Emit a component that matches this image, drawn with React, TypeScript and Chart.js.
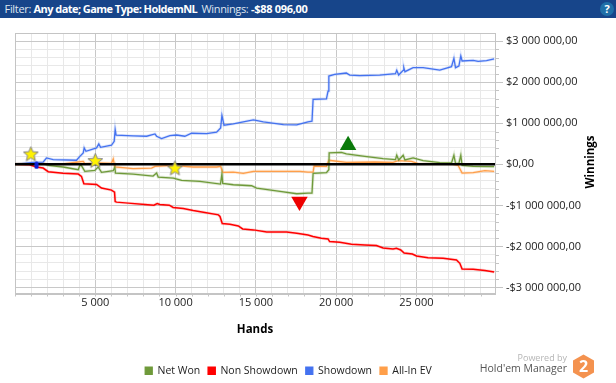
import React, { useEffect, useRef } from "react";
import { Chart, registerables } from "chart.js";

Chart.register(...registerables);

type P = [number, number];

const xTickValues = [5000, 10000, 15000, 20000, 25000];
const xTickLabels = ["5 000", "10 000", "15 000", "20 000", "25 000"];
const yTickValues = [3000000, 2000000, 1000000, 0, -1000000, -2000000, -3000000];
const yTickLabels = ["$3 000 000,00", "$2 000 000,00", "$1 000 000,00", "$0,00", "-$1 000 000,00", "-$2 000 000,00", "-$3 000 000,00"];

const showdown: P[] = [
  [0, 0], [1130, 50], [1750, 55], [1960, 155], [2380, 115], [3830, 100], [4040, 195], [4250, 277], [4310, 400], [4420, 318],
  [5080, 400], [5220, 497], [5330, 415], [6010, 465], [6180, 560], [6240, 848], [6300, 709], [7360, 693], [8200, 685], [8720, 742],
  [8820, 685], [9130, 628], [9650, 700], [10060, 715], [10580, 685], [11000, 758], [11930, 750], [12560, 782], [12810, 888], [12890, 1190],
  [13020, 953], [13600, 986], [14220, 1035], [14850, 1084], [15470, 1035], [16720, 970], [17550, 962], [18250, 1035], [18500, 1051], [18570, 1581],
  [19400, 1597], [19500, 1785], [19550, 2150], [19920, 2190], [20640, 2225], [20850, 2176], [21470, 2160], [22720, 2176], [23700, 2208], [23780, 2290],
  [23900, 2176], [24180, 2290], [24220, 2355], [24290, 2257], [24800, 2355], [25420, 2355], [26460, 2298], [27190, 2380], [27340, 2583], [27440, 2355],
  [27650, 2396], [27770, 2640], [27850, 2518], [28540, 2535], [28850, 2510], [29370, 2527], [29850, 2567],
];

const nonShowdown: P[] = [
  [0, 0], [900, -8], [1340, -65], [1750, -90], [2070, -180], [3000, -220], [3940, -236], [4140, -293], [4290, -473], [5080, -489],
  [5390, -579], [6010, -628], [6200, -676], [6240, -905], [6320, -921], [7050, -945], [8090, -978], [8650, -994], [8860, -954], [9020, -978],
  [9610, -994], [9850, -1051], [10480, -1076], [11100, -1125], [11730, -1165], [12670, -1231], [12770, -1271], [12910, -1443], [13390, -1459], [13910, -1500],
  [14180, -1573], [14850, -1597], [15680, -1646], [16920, -1646], [17550, -1679], [18250, -1720], [18560, -1760], [19080, -1801], [19500, -1817], [19600, -1883],
  [20230, -1899], [20960, -1948], [21790, -1964], [22510, -1980], [22930, -2038], [23550, -2062], [23760, -2046], [24030, -2086], [24240, -2160], [24750, -2184],
  [25010, -2233], [25730, -2274], [26670, -2290], [27500, -2331], [27710, -2412], [27850, -2551], [28540, -2559], [29270, -2584], [29850, -2624],
];

const netWon: P[] = [
  [0, 0], [1130, 8], [1750, 16], [2070, -24], [3000, -65], [3940, -130], [4040, -24], [4140, -30], [4350, -171], [4970, -147],
  [5180, -65], [5390, -196], [6120, -155], [6220, -65], [6260, -212], [7360, -236], [8600, -285], [8820, -212], [8920, -310], [9860, -334],
  [10380, -391], [11520, -416], [12800, -481], [12890, -236], [12940, -465], [13600, -497], [14740, -522], [15050, -579], [16510, -660], [17550, -717],
  [18250, -701], [18500, -701], [18570, -220], [19400, -204], [19550, -130], [19570, 277], [20330, 293], [20640, 253], [21790, 196], [22930, 139],
  [23700, 114], [23780, 220], [23900, 106], [24180, 220], [24290, 106], [24800, 155], [25420, 90], [26460, 41], [27190, 33], [27340, 220],
  [27440, 24], [27650, 24], [27770, 220], [27850, -24], [28540, -49], [29850, -57],
];

const allInEv: P[] = [
  [0, 0], [1130, 24], [1750, 24], [2070, -8], [3000, 8], [3940, 57], [4250, 73], [4350, 16], [5280, 33], [6010, 24],
  [6120, 130], [6220, -65], [7360, -106], [8510, -90], [8720, -49], [9860, -24], [11100, -65], [12560, -65], [12810, -49], [12940, -196],
  [13600, -188], [14220, -220], [14850, -171], [16720, -171], [17750, -171], [18250, -188], [18570, -188], [18630, -41], [19400, -49], [19550, 98],
  [19920, 81], [20640, 49], [22410, 57], [23550, 49], [23870, 90], [24700, 73], [25110, 16], [27190, 8], [27600, -24], [27850, -212],
  [28540, -204], [29270, -155], [29850, -171],
];

const zeroLine: P[] = [[0, 0], [29900, 0]];
const starMarks: P[] = [[985, 253], [5000, 90], [9960, -90]];
const bestMark: P[] = [[20750, 465]];
const worstMark: P[] = [[17720, -905]];
const nowMark: P[] = [[1340, -24]];

const toPoints = (rows: P[]) => rows.map(([x, y]) => ({ x, y: y * 1000 }));

function makeStar(): HTMLCanvasElement {
  const c = document.createElement("canvas");
  c.width = 17;
  c.height = 17;
  const g = c.getContext("2d")!;
  g.beginPath();
  for (let i = 0; i < 10; i++) {
    const r = i % 2 === 0 ? 7.8 : 3.4;
    const a = -Math.PI / 2 + (i * Math.PI) / 5;
    const px = 8.5 + r * Math.cos(a);
    const py = 9 + r * Math.sin(a);
    if (i === 0) g.moveTo(px, py);
    else g.lineTo(px, py);
  }
  g.closePath();
  g.fillStyle = "#fff200";
  g.fill();
  g.strokeStyle = "#808080";
  g.lineWidth = 1;
  g.stroke();
  return c;
}

function makePill(): HTMLCanvasElement {
  const c = document.createElement("canvas");
  c.width = 5;
  c.height = 8;
  const g = c.getContext("2d")!;
  g.fillStyle = "#0a1fd6";
  g.beginPath();
  g.roundRect(0.5, 0.5, 4, 7, 1.5);
  g.fill();
  return c;
}

const axisDecor = {
  id: "axisDecor",
  beforeDatasetsDraw(chart: any) {
    const { ctx, chartArea: a } = chart;
    ctx.save();
    ctx.strokeStyle = "#c4c4c4";
    ctx.lineWidth = 1;
    ctx.strokeRect(Math.round(a.left) + 0.5, Math.round(a.top) + 0.5, Math.round(a.width), Math.round(a.height));
    ctx.beginPath();
    chart.scales.x.ticks.forEach((t: any) => {
      const px = Math.round(chart.scales.x.getPixelForValue(t.value)) + 0.5;
      ctx.moveTo(px, a.bottom);
      ctx.lineTo(px, a.bottom + 3);
    });
    chart.scales.y.ticks.forEach((t: any) => {
      const py = Math.round(chart.scales.y.getPixelForValue(t.value)) + 0.5;
      ctx.moveTo(a.right, py);
      ctx.lineTo(a.right + (t.value % 1000000 === 0 ? 8 : 4), py);
    });
    ctx.stroke();
    ctx.restore();
  },
  afterDraw(chart: any) {
    const { ctx } = chart;
    ctx.save();
    ctx.translate(591, 162);
    ctx.rotate(-Math.PI / 2);
    ctx.font = "bold 11.5px 'Open Sans'";
    ctx.fillStyle = "#000";
    ctx.textAlign = "center";
    ctx.textBaseline = "middle";
    ctx.fillText("Winnings", 0, 0);
    ctx.restore();
  },
  afterLayout(chart: any) {
    chart.legend.left -= 27;
    chart.legend.right -= 27;
    chart.legend.top += 3;
    chart.legend.bottom += 3;
  },
};

const font = { family: "'Open Sans'", size: 11 };

export default function App() {
  const ref = useRef<HTMLCanvasElement>(null);
  useEffect(() => {
    document.body.style.margin = "0";
    document.body.style.background = "#fff";
    const star = makeStar();
    const pill = makePill();
    const line = (label: string, rows: P[], color: string, width: number, order: number) => ({
      type: "line" as const,
      label,
      data: toPoints(rows),
      borderColor: color,
      backgroundColor: color,
      borderWidth: width,
      pointRadius: 0,
      tension: 0,
      order,
    });
    const mark = (label: string, rows: P[], style: any, color: string, radius: number, rotation: number) => ({
      type: "scatter" as const,
      label,
      data: toPoints(rows),
      pointStyle: style,
      pointRadius: radius,
      pointRotation: rotation,
      backgroundColor: color,
      borderColor: color,
      borderWidth: 0,
      order: 0,
    });
    const chart = new Chart(ref.current!, {
      type: "line",
      data: {
        datasets: [
          line("Net Won", netWon, "#6f9a3a", 1.3, 4),
          line("Non Showdown", nonShowdown, "#ff0000", 1.5, 5),
          line("Showdown", showdown, "#4472f0", 1.3, 6),
          line("All-In EV", allInEv, "#ff9f4a", 1.3, 7),
          line("", netWon, "rgba(111,154,58,0.22)", 3, 8),
          line("", nonShowdown, "rgba(255,0,0,0.16)", 3, 8),
          line("", showdown, "rgba(68,114,240,0.18)", 3, 8),
          line("", allInEv, "rgba(255,159,74,0.22)", 3, 8),
          line("", zeroLine, "#000000", 2.5, 1),
          mark("", starMarks, star, "#fff200", 8, 0),
          mark("", bestMark, "triangle", "#0a7a0a", 9.5, 0),
          mark("", worstMark, "triangle", "#ee0000", 9.5, 180),
          mark("", nowMark, pill, "#0a1fd6", 4, 0),
        ] as any,
      },
      options: {
        responsive: false,
        animation: false,
        layout: { padding: { top: 33, left: 15, right: 0, bottom: 0 } },
        plugins: {
          tooltip: { enabled: false },
          legend: {
            display: true,
            position: "bottom",
            labels: {
              boxWidth: 7,
              boxHeight: 7,
              padding: 8,
              color: "#222",
              font: { family: "'Open Sans'", size: 10.5 },
              filter: (item: any) => !!item.text,
            },
          },
        },
        scales: {
          x: {
            type: "linear",
            min: 0,
            max: 29900,
            afterBuildTicks: (s: any) => {
              const out: any[] = [];
              for (let v = 0; v < 29900; v += 1000) out.push({ value: v });
              s.ticks = out;
            },
            afterFit: (s: any) => { s.height = 61; },
            grid: {
              color: (c: any) => (c.tick && c.tick.value % 5000 === 0 ? "#c8c8c8" : "#e8e8e8"),
              tickColor: "transparent",
              tickLength: 2,
            },
            border: { color: "#c4c4c4" },
            ticks: {
              autoSkip: false,
              maxRotation: 0,
              padding: 1,
              color: "#222",
              font,
              callback: (v: any) => {
                const i = xTickValues.indexOf(Number(v));
                return i >= 0 ? xTickLabels[i] : "";
              },
            },
            title: { display: true, text: "Hands", color: "#000", font: { family: "'Open Sans'", size: 11.5, weight: "bold" }, padding: { top: 8, bottom: 18 } },
          },
          y: {
            type: "linear",
            position: "right",
            min: -3147000,
            max: 3200000,
            afterBuildTicks: (s: any) => {
              const out: any[] = [];
              for (let v = -3000000; v <= 3000000; v += 200000) out.push({ value: v });
              s.ticks = out;
            },
            afterFit: (s: any) => { s.width = 121; },
            grid: {
              color: (c: any) => (c.tick && c.tick.value % 1000000 === 0 ? "#c8c8c8" : "#e8e8e8"),
              tickColor: "transparent",
              tickLength: 10,
            },
            border: { color: "#c4c4c4" },
            ticks: {
              autoSkip: false,
              padding: 1,
              color: "#222",
              font,
              callback: (v: any) => {
                const i = yTickValues.indexOf(Number(v));
                return i >= 0 ? yTickLabels[i] : "";
              },
            },
          },
        },
      } as any,
      plugins: [axisDecor],
    });
    return () => chart.destroy();
  }, []);

  const headText = { position: "absolute" as const, top: 0, lineHeight: "18px", fontSize: 11, whiteSpace: "pre" as const };
  return (
    <div style={{ position: "relative", width: 616, height: 383, overflow: "hidden", background: "#fff", fontFamily: "'Open Sans'" }}>
      <canvas ref={ref} width={616} height={383} style={{ position: "absolute", left: 0, top: 0 }} />
      <div style={{ position: "absolute", left: 0, top: 0, width: 616, height: 18, background: "#17458a", color: "#dfe6f0" }}>
        <span style={{ ...headText, left: 4.5, letterSpacing: -0.3 }}>Filter:</span>
        <b style={{ ...headText, left: 33.5, color: "#fff", letterSpacing: -0.55 }}>Any date; Game Type: HoldemNL</b>
        <span style={{ ...headText, left: 201.5, letterSpacing: -0.35 }}>Winnings:</span>
        <b style={{ ...headText, left: 251, color: "#fff", letterSpacing: -0.3 }}>-$88 096,00</b>
      </div>
      <div style={{ position: "absolute", left: 600, top: 2, width: 14, height: 14, borderRadius: 7, background: "#1f6fa8", color: "#fff", fontSize: 11, fontWeight: 700, lineHeight: "14px", textAlign: "center" }}>?</div>
      <div style={{ position: "absolute", right: 49, top: 351, color: "#b5b5b5", fontSize: 9, lineHeight: "14px" }}>Powered by</div>
      <div style={{ position: "absolute", right: 49, top: 361, color: "#555", fontSize: 10.5, lineHeight: "15px" }}>Hold'em Manager</div>
      <svg style={{ position: "absolute", left: 572, top: 354 }} width="23" height="25" viewBox="0 0 23 25">
        <polygon points="11.5,0.5 22,6.5 22,18.5 11.5,24.5 1,18.5 1,6.5" fill="#f4924f" />
        <text x="11.5" y="18" textAnchor="middle" fontSize="16" fontWeight="700" fontFamily="'Open Sans'" fill="#fff">2</text>
      </svg>
    </div>
  );
}
